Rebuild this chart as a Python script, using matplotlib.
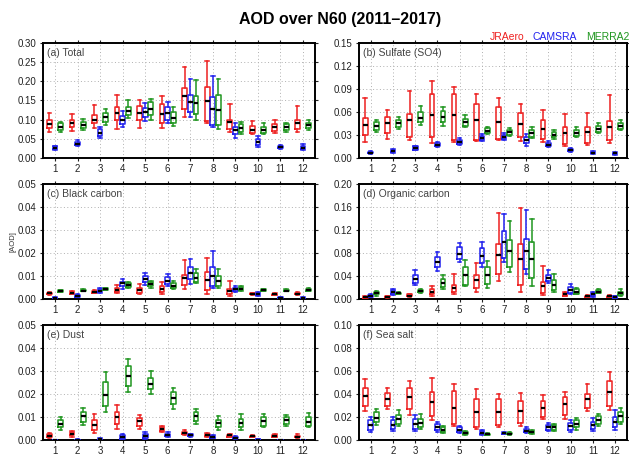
"""Monthly AOD box plots over N60 for three reanalyses."""

import numpy as np
import matplotlib
matplotlib.use("Agg")
import matplotlib.pyplot as plt

plt.rcParams["font.family"] = ["Liberation Sans", "DejaVu Sans"]

MONTHS = list(range(1, 13))
MODELS = ["JRAero", "CAMSRA", "MERRA2"]
COLORS = ["#ee2020", "#2020ee", "#1f961f"]

# each entry: (whisker low, q1, median, q3, whisker high)
TOTAL_JRA = [
    (0.067, 0.077, 0.088, 0.100, 0.117), (0.070, 0.080, 0.090, 0.100, 0.116),
    (0.078, 0.090, 0.100, 0.113, 0.137), (0.076, 0.098, 0.117, 0.132, 0.165),
    (0.078, 0.099, 0.118, 0.135, 0.151), (0.078, 0.090, 0.115, 0.140, 0.161),
    (0.107, 0.128, 0.162, 0.183, 0.238), (0.090, 0.097, 0.149, 0.185, 0.252),
    (0.068, 0.075, 0.094, 0.100, 0.140), (0.062, 0.066, 0.074, 0.083, 0.096),
    (0.064, 0.070, 0.080, 0.088, 0.099), (0.067, 0.075, 0.090, 0.100, 0.135)]
TOTAL_CAMS = [
    (0.022, 0.024, 0.027, 0.030, 0.032), (0.030, 0.033, 0.037, 0.042, 0.046),
    (0.052, 0.058, 0.066, 0.075, 0.082), (0.080, 0.088, 0.100, 0.110, 0.123),
    (0.096, 0.108, 0.119, 0.130, 0.143), (0.090, 0.100, 0.118, 0.132, 0.147),
    (0.108, 0.120, 0.147, 0.165, 0.206), (0.080, 0.085, 0.128, 0.160, 0.213),
    (0.052, 0.062, 0.072, 0.080, 0.090), (0.028, 0.033, 0.042, 0.050, 0.058),
    (0.023, 0.025, 0.028, 0.032, 0.035), (0.020, 0.023, 0.027, 0.032, 0.036)]
TOTAL_MERRA = [
    (0.067, 0.073, 0.082, 0.090, 0.094), (0.072, 0.078, 0.087, 0.094, 0.102),
    (0.087, 0.095, 0.106, 0.118, 0.128), (0.104, 0.113, 0.123, 0.134, 0.150),
    (0.099, 0.111, 0.127, 0.145, 0.154), (0.083, 0.090, 0.105, 0.120, 0.132),
    (0.100, 0.115, 0.143, 0.163, 0.203), (0.075, 0.085, 0.125, 0.164, 0.205),
    (0.062, 0.067, 0.078, 0.088, 0.095), (0.062, 0.066, 0.074, 0.082, 0.090),
    (0.068, 0.073, 0.081, 0.088, 0.092), (0.073, 0.077, 0.086, 0.092, 0.100)]

SO4_JRA = [
    (0.021, 0.030, 0.043, 0.052, 0.078), (0.025, 0.032, 0.045, 0.054, 0.063),
    (0.023, 0.028, 0.049, 0.058, 0.087), (0.020, 0.027, 0.056, 0.083, 0.101),
    (0.021, 0.023, 0.056, 0.084, 0.092), (0.022, 0.024, 0.049, 0.071, 0.083),
    (0.024, 0.025, 0.047, 0.066, 0.078), (0.022, 0.028, 0.044, 0.059, 0.071),
    (0.021, 0.025, 0.038, 0.049, 0.062), (0.015, 0.018, 0.033, 0.040, 0.057),
    (0.017, 0.020, 0.034, 0.041, 0.059), (0.020, 0.023, 0.040, 0.048, 0.082)]
SO4_CAMS = [
    (0.005, 0.006, 0.007, 0.008, 0.009), (0.007, 0.008, 0.009, 0.011, 0.012),
    (0.010, 0.011, 0.013, 0.015, 0.016), (0.014, 0.015, 0.017, 0.019, 0.021),
    (0.017, 0.018, 0.021, 0.024, 0.026), (0.022, 0.023, 0.026, 0.029, 0.031),
    (0.024, 0.025, 0.027, 0.030, 0.032), (0.016, 0.019, 0.024, 0.028, 0.031),
    (0.014, 0.015, 0.017, 0.020, 0.022), (0.008, 0.009, 0.010, 0.012, 0.013),
    (0.005, 0.006, 0.007, 0.008, 0.009), (0.004, 0.005, 0.006, 0.007, 0.008)]
SO4_MERRA = [
    (0.034, 0.037, 0.042, 0.047, 0.050), (0.038, 0.040, 0.045, 0.050, 0.053),
    (0.043, 0.047, 0.052, 0.060, 0.068), (0.042, 0.047, 0.054, 0.061, 0.066),
    (0.040, 0.042, 0.047, 0.051, 0.056), (0.031, 0.032, 0.035, 0.039, 0.041),
    (0.029, 0.030, 0.034, 0.037, 0.039), (0.026, 0.028, 0.032, 0.037, 0.041),
    (0.025, 0.027, 0.030, 0.034, 0.036), (0.027, 0.029, 0.033, 0.037, 0.040),
    (0.032, 0.034, 0.038, 0.042, 0.045), (0.036, 0.038, 0.042, 0.046, 0.049)]

BC_JRA = [
    (0.0019, 0.0021, 0.0025, 0.0028, 0.0031), (0.0020, 0.0023, 0.0027, 0.0031, 0.0035),
    (0.0025, 0.0027, 0.0030, 0.0035, 0.0040), (0.0025, 0.0030, 0.0038, 0.0048, 0.0062),
    (0.0020, 0.0027, 0.0040, 0.0050, 0.0065), (0.0023, 0.0030, 0.0045, 0.0055, 0.0073),
    (0.0045, 0.0060, 0.0090, 0.0105, 0.0170), (0.0023, 0.0040, 0.0082, 0.0117, 0.0177),
    (0.0012, 0.0020, 0.0035, 0.0045, 0.0080), (0.0018, 0.0020, 0.0023, 0.0025, 0.0028),
    (0.0017, 0.0019, 0.0021, 0.0023, 0.0025), (0.0018, 0.0020, 0.0023, 0.0026, 0.0030)]
BC_CAMS = [
    (0.0002, 0.0003, 0.0005, 0.0006, 0.0008), (0.0008, 0.0010, 0.0013, 0.0016, 0.0020),
    (0.0025, 0.0030, 0.0035, 0.0042, 0.0050), (0.0045, 0.0055, 0.0068, 0.0075, 0.0088),
    (0.0060, 0.0072, 0.0087, 0.0100, 0.0115), (0.0055, 0.0065, 0.0080, 0.0095, 0.0108),
    (0.0067, 0.0085, 0.0115, 0.0138, 0.0175), (0.0048, 0.0055, 0.0100, 0.0138, 0.0210),
    (0.0030, 0.0035, 0.0042, 0.0048, 0.0055), (0.0015, 0.0018, 0.0022, 0.0026, 0.0030),
    (0.0002, 0.0004, 0.0006, 0.0008, 0.0010), (0.0001, 0.0002, 0.0004, 0.0006, 0.0008)]
BC_MERRA = [
    (0.0030, 0.0032, 0.0035, 0.0038, 0.0040), (0.0033, 0.0035, 0.0037, 0.0040, 0.0042),
    (0.0038, 0.0041, 0.0045, 0.0048, 0.0050), (0.0048, 0.0052, 0.0060, 0.0068, 0.0075),
    (0.0050, 0.0055, 0.0065, 0.0075, 0.0080), (0.0045, 0.0050, 0.0058, 0.0068, 0.0077),
    (0.0068, 0.0075, 0.0092, 0.0115, 0.0130), (0.0048, 0.0058, 0.0078, 0.0102, 0.0130),
    (0.0035, 0.0038, 0.0045, 0.0052, 0.0055), (0.0033, 0.0036, 0.0040, 0.0043, 0.0045),
    (0.0033, 0.0035, 0.0037, 0.0040, 0.0042), (0.0033, 0.0035, 0.0038, 0.0045, 0.0050)]

OC_JRA = [
    (0.002, 0.0025, 0.003, 0.004, 0.005), (0.002, 0.003, 0.004, 0.0045, 0.005),
    (0.004, 0.005, 0.006, 0.008, 0.009), (0.006, 0.008, 0.013, 0.018, 0.022),
    (0.008, 0.012, 0.020, 0.025, 0.043), (0.013, 0.020, 0.033, 0.042, 0.062),
    (0.031, 0.043, 0.077, 0.096, 0.149), (0.013, 0.025, 0.069, 0.096, 0.158),
    (0.007, 0.010, 0.023, 0.030, 0.058), (0.005, 0.006, 0.008, 0.010, 0.012),
    (0.003, 0.004, 0.005, 0.006, 0.007), (0.003, 0.004, 0.005, 0.006, 0.007)]
OC_CAMS = [
    (0.003, 0.004, 0.005, 0.007, 0.008), (0.007, 0.009, 0.012, 0.015, 0.018),
    (0.025, 0.028, 0.035, 0.042, 0.050), (0.048, 0.055, 0.064, 0.073, 0.082),
    (0.064, 0.070, 0.079, 0.090, 0.097), (0.055, 0.062, 0.075, 0.088, 0.100),
    (0.065, 0.072, 0.099, 0.118, 0.148), (0.044, 0.052, 0.084, 0.105, 0.154),
    (0.027, 0.031, 0.036, 0.042, 0.050), (0.008, 0.010, 0.016, 0.021, 0.026),
    (0.004, 0.006, 0.008, 0.010, 0.012), (0.001, 0.002, 0.003, 0.005, 0.006)]
OC_MERRA = [
    (0.006, 0.008, 0.010, 0.012, 0.014), (0.008, 0.009, 0.010, 0.011, 0.012),
    (0.010, 0.012, 0.014, 0.016, 0.018), (0.018, 0.021, 0.027, 0.034, 0.042),
    (0.022, 0.025, 0.041, 0.055, 0.067), (0.020, 0.026, 0.042, 0.055, 0.066),
    (0.047, 0.055, 0.083, 0.103, 0.136), (0.022, 0.036, 0.070, 0.100, 0.139),
    (0.013, 0.016, 0.025, 0.033, 0.043), (0.008, 0.009, 0.013, 0.017, 0.019),
    (0.010, 0.011, 0.013, 0.015, 0.017), (0.005, 0.007, 0.010, 0.013, 0.017)]

DUST_JRA = [
    (0.0008, 0.0012, 0.0018, 0.0025, 0.0032), (0.0015, 0.0020, 0.0027, 0.0033, 0.0040),
    (0.0032, 0.0045, 0.0065, 0.0085, 0.0113), (0.0050, 0.0068, 0.0098, 0.0123, 0.0152),
    (0.0048, 0.0063, 0.0082, 0.0095, 0.0108), (0.0033, 0.0038, 0.0048, 0.0058, 0.0063),
    (0.0020, 0.0025, 0.0030, 0.0036, 0.0042), (0.0015, 0.0018, 0.0023, 0.0028, 0.0032),
    (0.0012, 0.0015, 0.0020, 0.0023, 0.0027), (0.0011, 0.0013, 0.0016, 0.0019, 0.0022),
    (0.0012, 0.0014, 0.0018, 0.0021, 0.0025), (0.0008, 0.0011, 0.0015, 0.0019, 0.0025)]
DUST_CAMS = [
    (0.0000, 0.0000, 0.0001, 0.0001, 0.0002), (0.0000, 0.0001, 0.0001, 0.0002, 0.0003),
    (0.0000, 0.0002, 0.0004, 0.0006, 0.0008), (0.0003, 0.0005, 0.0012, 0.0020, 0.0028),
    (0.0005, 0.0008, 0.0017, 0.0025, 0.0033), (0.0013, 0.0016, 0.0022, 0.0028, 0.0033),
    (0.0013, 0.0016, 0.0020, 0.0024, 0.0027), (0.0008, 0.0010, 0.0013, 0.0017, 0.0020),
    (0.0005, 0.0007, 0.0010, 0.0014, 0.0017), (0.0000, 0.0001, 0.0002, 0.0003, 0.0005),
    (0.0000, 0.0000, 0.0001, 0.0001, 0.0002), (0.0000, 0.0000, 0.0000, 0.0001, 0.0001)]
DUST_MERRA = [
    (0.0045, 0.0055, 0.0068, 0.0085, 0.0100), (0.0065, 0.0080, 0.0103, 0.0120, 0.0140),
    (0.0123, 0.0147, 0.0195, 0.0253, 0.0295), (0.0210, 0.0235, 0.0280, 0.0323, 0.0353),
    (0.0200, 0.0222, 0.0245, 0.0268, 0.0300), (0.0135, 0.0155, 0.0183, 0.0210, 0.0228),
    (0.0070, 0.0083, 0.0103, 0.0123, 0.0135), (0.0045, 0.0055, 0.0073, 0.0085, 0.0105),
    (0.0045, 0.0055, 0.0072, 0.0093, 0.0113), (0.0055, 0.0062, 0.0082, 0.0098, 0.0113),
    (0.0060, 0.0068, 0.0085, 0.0098, 0.0110), (0.0055, 0.0062, 0.0078, 0.0098, 0.0118)]

SALT_JRA = [
    (0.025, 0.030, 0.038, 0.045, 0.053), (0.027, 0.030, 0.036, 0.041, 0.045),
    (0.022, 0.027, 0.037, 0.045, 0.051), (0.017, 0.021, 0.033, 0.042, 0.054),
    (0.012, 0.014, 0.028, 0.043, 0.049), (0.010, 0.011, 0.024, 0.036, 0.044),
    (0.011, 0.013, 0.024, 0.036, 0.040), (0.012, 0.015, 0.025, 0.034, 0.041),
    (0.018, 0.020, 0.028, 0.034, 0.039), (0.018, 0.022, 0.031, 0.037, 0.042),
    (0.025, 0.028, 0.036, 0.040, 0.049), (0.026, 0.030, 0.042, 0.051, 0.059)]
SALT_CAMS = [
    (0.007, 0.009, 0.013, 0.017, 0.020), (0.008, 0.010, 0.013, 0.017, 0.020),
    (0.008, 0.010, 0.014, 0.018, 0.022), (0.007, 0.009, 0.011, 0.014, 0.016),
    (0.006, 0.007, 0.009, 0.011, 0.012), (0.004, 0.005, 0.006, 0.008, 0.009),
    (0.005, 0.0055, 0.006, 0.0065, 0.007), (0.006, 0.007, 0.008, 0.010, 0.011),
    (0.008, 0.009, 0.011, 0.013, 0.015), (0.007, 0.009, 0.012, 0.015, 0.017),
    (0.008, 0.010, 0.013, 0.016, 0.019), (0.009, 0.011, 0.016, 0.020, 0.026)]
SALT_MERRA = [
    (0.013, 0.016, 0.019, 0.024, 0.027), (0.012, 0.014, 0.018, 0.022, 0.026),
    (0.010, 0.011, 0.015, 0.018, 0.023), (0.006, 0.007, 0.009, 0.011, 0.012),
    (0.004, 0.005, 0.006, 0.007, 0.008), (0.004, 0.0045, 0.005, 0.0055, 0.006),
    (0.004, 0.005, 0.0055, 0.006, 0.007), (0.005, 0.006, 0.007, 0.008, 0.009),
    (0.008, 0.009, 0.011, 0.013, 0.014), (0.009, 0.011, 0.014, 0.017, 0.019),
    (0.012, 0.014, 0.017, 0.021, 0.023), (0.014, 0.016, 0.021, 0.024, 0.028)]

# panel title, (JRAero, CAMSRA, MERRA2), y max, y tick step
PANELS = [
    ("(a) Total", (TOTAL_JRA, TOTAL_CAMS, TOTAL_MERRA), 0.30, 0.05),
    ("(b) Sulfate (SO4)", (SO4_JRA, SO4_CAMS, SO4_MERRA), 0.15, 0.03),
    ("(c) Black carbon", (BC_JRA, BC_CAMS, BC_MERRA), 0.05, 0.01),
    ("(d) Organic carbon", (OC_JRA, OC_CAMS, OC_MERRA), 0.20, 0.04),
    ("(e) Dust", (DUST_JRA, DUST_CAMS, DUST_MERRA), 0.05, 0.01),
    ("(f) Sea salt", (SALT_JRA, SALT_CAMS, SALT_MERRA), 0.10, 0.02),
]

# axes boxes in figure fraction: [left, bottom, width, height]
COL_LEFT = [0.0684, 0.5707]
COL_WIDTH = [0.4324, 0.4260]
ROW_BOTTOM = [0.6543, 0.3457, 0.0372]
ROW_HEIGHT = 0.2516

OFFSETS = [-0.25, 0.0, 0.25]
BOX_WIDTH = 0.21


def to_stats(rows):
    return [
        {"whislo": lo, "q1": q1, "med": med, "q3": q3, "whishi": hi, "fliers": []}
        for lo, q1, med, q3, hi in rows
    ]


fig = plt.figure(figsize=(6.29, 4.57), dpi=100)
fig.patch.set_facecolor("white")

for idx, (label, series, ymax, ystep) in enumerate(PANELS):
    row, col = divmod(idx, 2)
    ax = fig.add_axes([COL_LEFT[col], ROW_BOTTOM[row], COL_WIDTH[col], ROW_HEIGHT])

    for rows, off, color in zip(series, OFFSETS, COLORS):
        pos = np.array(MONTHS) + off
        ax.bxp(
            to_stats(rows),
            positions=pos,
            widths=BOX_WIDTH,
            showfliers=False,
            manage_ticks=False,
            boxprops=dict(color=color, linewidth=1.1),
            whiskerprops=dict(color=color, linewidth=1.1),
            capprops=dict(color=color, linewidth=1.1),
            capwidths=BOX_WIDTH * 0.75,
            medianprops=dict(color="black", linewidth=1.6, solid_capstyle="butt"),
            zorder=3,
        )

    ax.set_xlim(0.47, 12.53)
    ax.set_ylim(0, ymax)
    ax.set_xticks(MONTHS)
    ax.set_xticklabels([str(m) for m in MONTHS])
    yt = np.arange(0, ymax + ystep / 2, ystep)
    ax.set_yticks(yt)
    ax.set_yticklabels([f"{v:.2f}" for v in yt])

    ax.grid(True, linestyle=(0, (1, 2.5)), color="#b0b0b0", linewidth=0.7, zorder=0)
    ax.set_axisbelow(True)
    ax.tick_params(axis="both", direction="out", length=2.5, width=0.8,
                   labelsize=7, pad=2, top=True, right=True, colors="#222222")
    for side in ax.spines.values():
        side.set_linewidth(1.4)
        side.set_color("black")

    ax.text(0.015, 0.96, label, transform=ax.transAxes, ha="left", va="top",
            fontsize=7.5, color="#444444")

    if idx == 2:
        ax.set_ylabel("[AOD]", fontsize=5.5, labelpad=1, color="#333333")

fig.text(0.54, 0.957, "AOD over N60 (2011\u20132017)", ha="center", va="center",
         fontsize=11.5, fontweight="bold")

legend_x = [0.779, 0.847, 0.932]
for name, color, x in zip(MODELS, COLORS, legend_x):
    fig.text(x, 0.918, name, ha="left", va="center", fontsize=7.5, color=color)

fig.savefig("out.png", dpi=100, facecolor="white")
